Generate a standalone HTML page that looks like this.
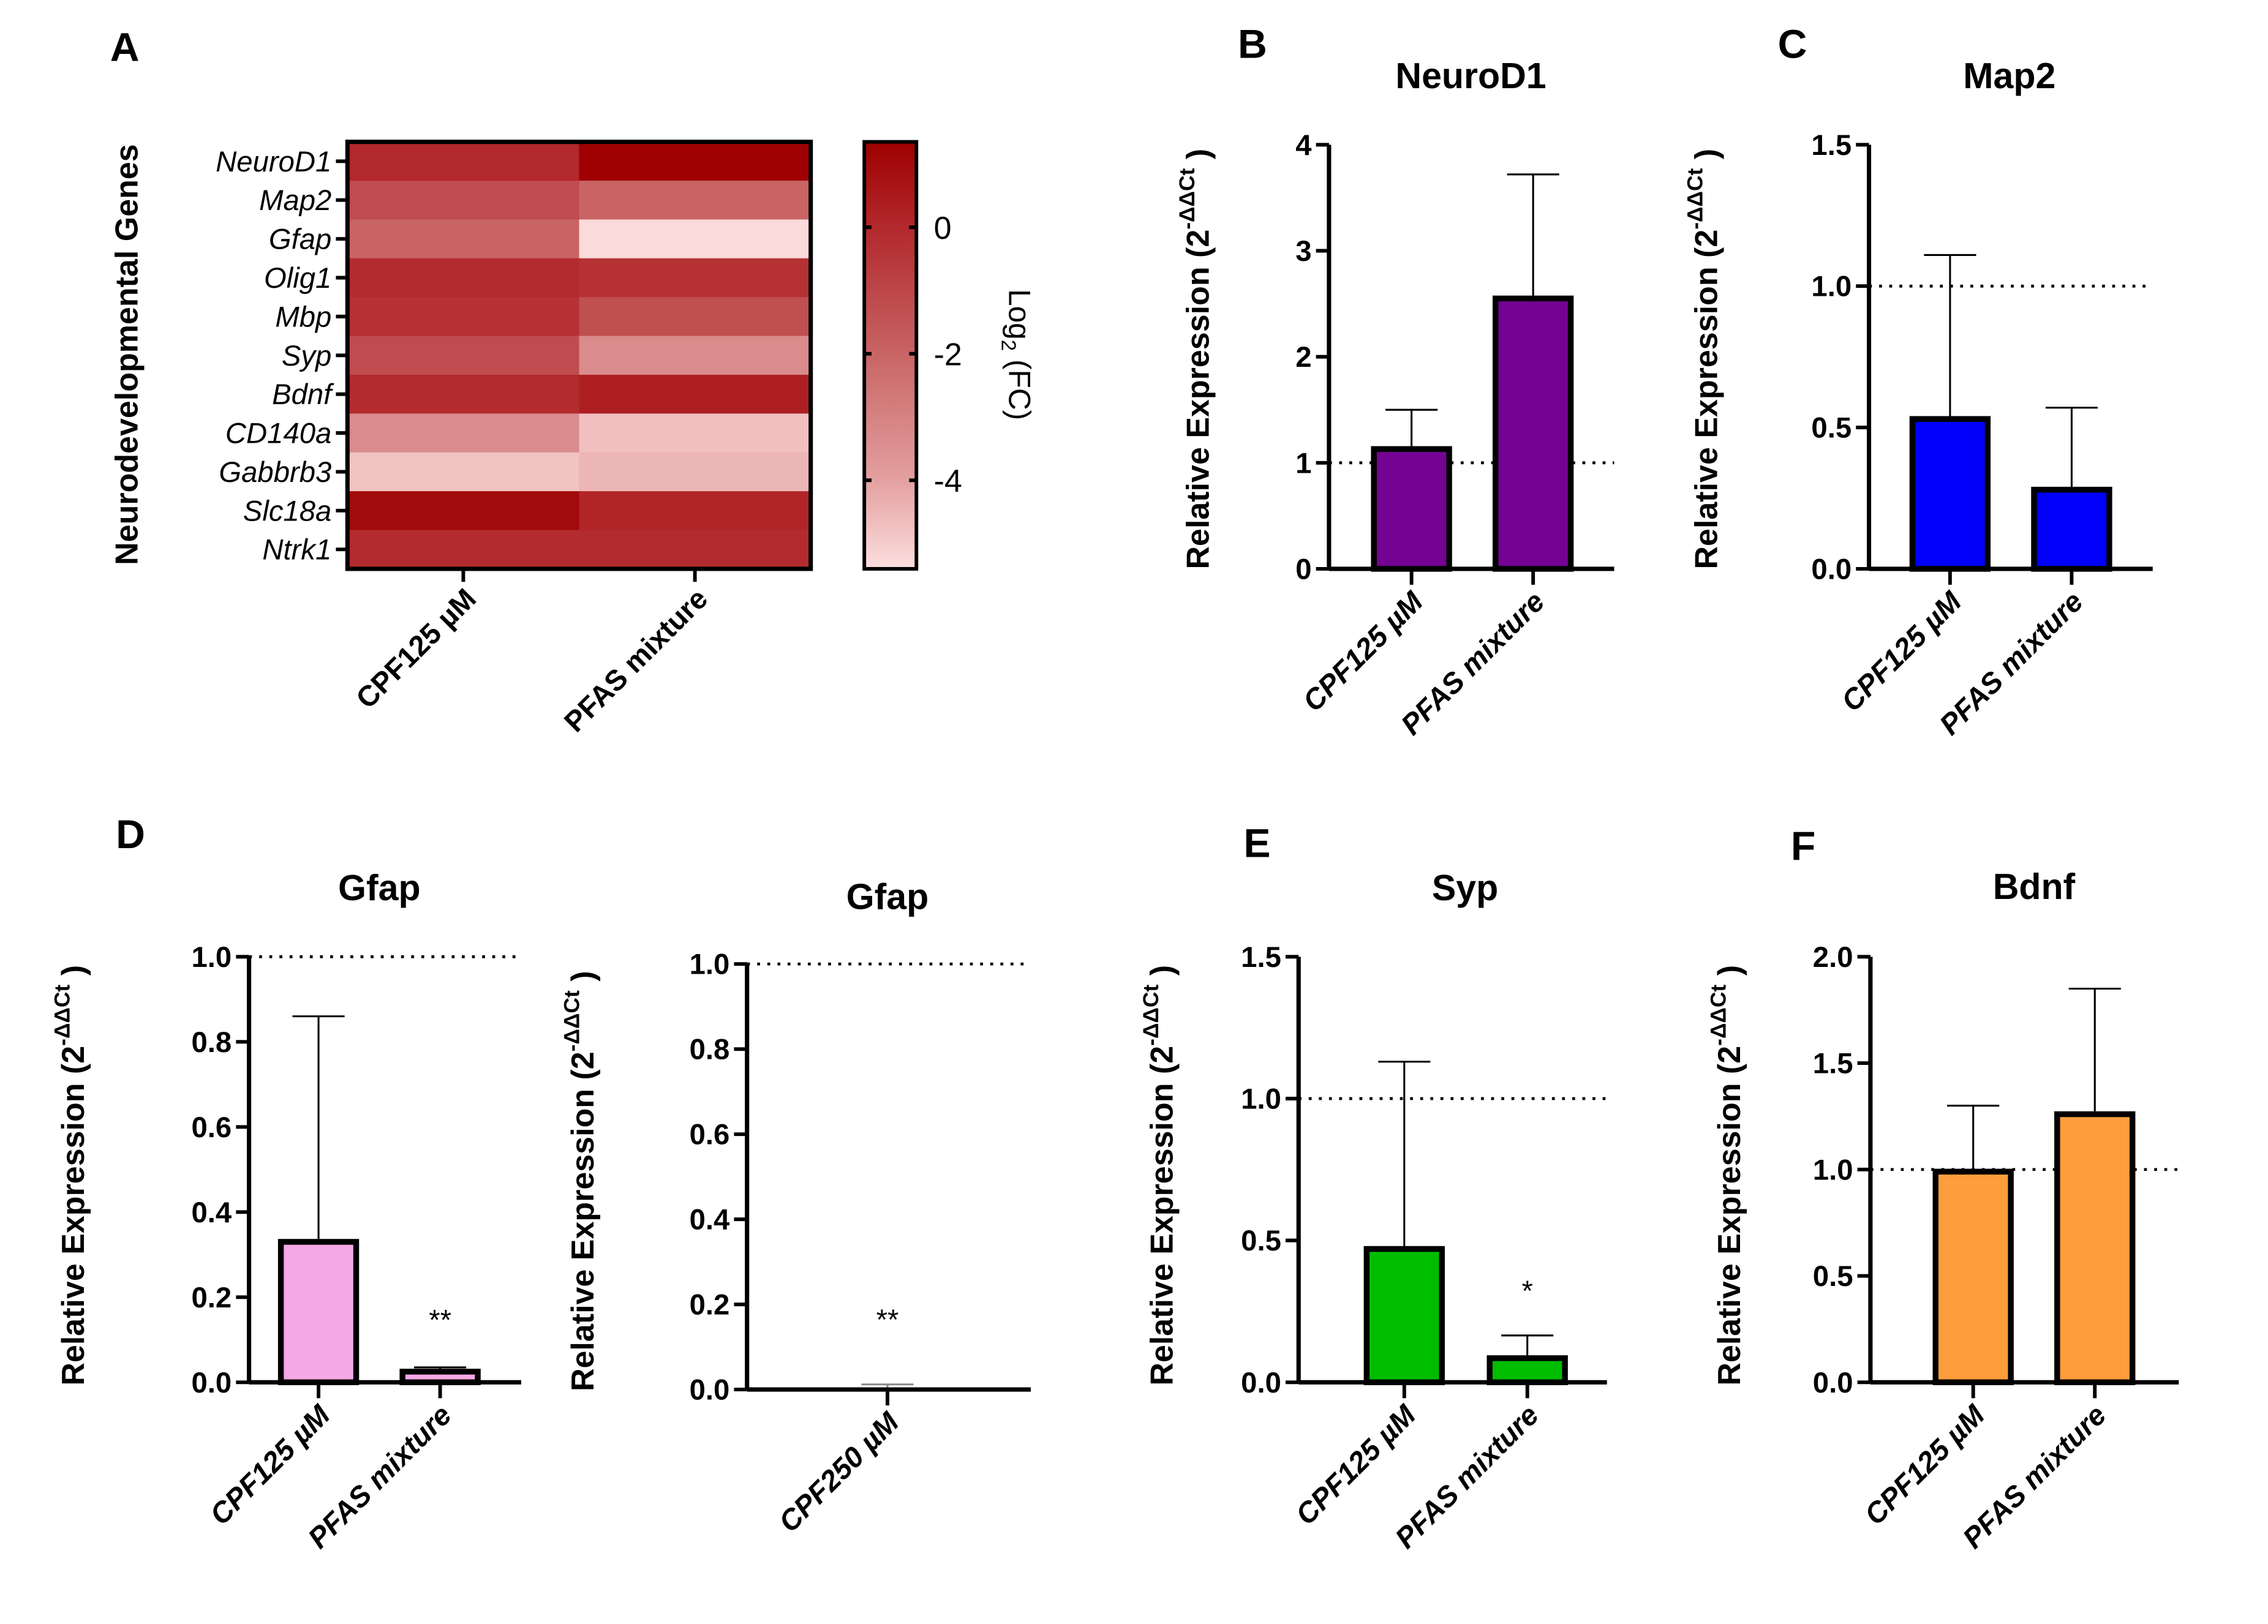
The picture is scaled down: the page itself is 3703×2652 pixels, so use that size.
<!DOCTYPE html>
<html><head><meta charset="utf-8"><style>
html,body{margin:0;padding:0;background:#fff}
svg{display:block}
text{font-family:"Liberation Sans",Arial,sans-serif}
</style></head><body>
<svg id="fig" xmlns="http://www.w3.org/2000/svg" width="3703" height="2652" viewBox="0 0 1566.6 1122">
<rect width="1600" height="1150" fill="#fff"/>
</svg>
<script>
const NS='http://www.w3.org/2000/svg';
const svg=document.getElementById('fig');
function mk(tag,attrs,parent,txt){const e=document.createElementNS(NS,tag);for(const k in attrs)e.setAttribute(k,attrs[k]);if(txt!==undefined)e.textContent=txt;(parent||svg).appendChild(e);return e;}

// ---------- Heatmap data ----------
const heatGenes=['NeuroD1','Map2','Gfap','Olig1','Mbp','Syp','Bdnf','CD140a','Gabbrb3','Slc18a','Ntrk1'];
const heatGroups=['CPF125 µM','PFAS mixture'];
const heatCPF=[0,-1.2,-2.0,-0.1,-0.3,-1.2,-0.1,-3.3,-4.8,1.0,-0.1];
const heatPFAS=[1.3,-2.0,-5.3,-0.3,-1.3,-3.3,0.3,-4.7,-4.5,0.1,-0.1];
const cbTicks=[0,-2,-4];

// ---------- Bar data ----------
const barCats=['CPF125 µM','PFAS mixture'];
const neurodVals=[1.13,2.55], neurodErr=[1.5,3.72];
const map2Vals=[0.53,0.28], map2Err=[1.11,0.57];
const gfapVals=[0.33,0.025], gfapErr=[0.86,0.035];
const gfap250Cats=['CPF250 µM'];
const gfap250Vals=[0.003], gfap250Err=[0.012];
const sypVals=[0.47,0.085], sypErr=[1.13,0.165];
const bdnfVals=[0.99,1.26], bdnfErr=[1.30,1.85];
const ticks4=['0','1','2','3','4'];
const ticks15=['0.0','0.5','1.0','1.5'];
const ticks10=['0.0','0.2','0.4','0.6','0.8','1.0'];
const ticks20=['0.0','0.5','1.0','1.5','2.0'];

// ---------- Heatmap ----------
(function(){
  const g=mk('g',{});
  const x0=240,x1=560,y0=98,y1=393;
  const vmax=1.35,vmin=-5.4;
  const stops=[[1.35,[158,0,0]],[0,[178,40,44]],[-2,[200,100,100]],[-4,[228,160,160]],[-5.4,[252,222,222]]];
  function col(v){v=Math.max(vmin,Math.min(vmax,v));for(let i=0;i<stops.length-1;i++){const a=stops[i],b=stops[i+1];if(v<=a[0]&&v>=b[0]){const t=(a[0]-v)/(a[0]-b[0]);const c=a[1].map((q,j)=>Math.round(q+(b[1][j]-q)*t));return 'rgb('+c.join(',')+')';}}return 'rgb(252,222,222)';}
  const rh=(y1-y0)/heatGenes.length, cw=(x1-x0)/heatGroups.length;
  const cols=[heatCPF,heatPFAS];
  cols.forEach((arr,ci)=>arr.forEach((v,ri)=>{
    const r=mk('rect',{x:x0+ci*cw,y:y0+ri*rh,width:cw+0.5,height:rh+0.5,fill:col(v)},g);
    
    
  }));
  mk('rect',{x:x0,y:y0,width:x1-x0,height:y1-y0,fill:'none',stroke:'#000','stroke-width':3,},g);
  heatGenes.forEach((n,i)=>{
    const y=y0+(i+0.5)*rh;
    mk('line',{x1:x0-8,x2:x0,y1:y,y2:y,stroke:'#000','stroke-width':2.5},g);
    const t=mk('text',{x:x0-11,y:y+7,'text-anchor':'end','font-size':20,'font-style':'italic'},g,n);
    
    
  });
  heatGroups.forEach((n,i)=>{
    const x=x0+(i+0.5)*cw;
    mk('line',{x1:x,x2:x,y1:y1,y2:y1+9,stroke:'#000','stroke-width':2.5},g);
    const t=mk('text',{x:0,y:0,'text-anchor':'end','font-size':20,'font-weight':'bold',transform:`translate(${x+10},${y1+22}) rotate(-45)`},g,n);
    
    
  });
  mk('text',{x:0,y:0,'text-anchor':'middle','font-size':22,'font-weight':'bold',transform:'translate(95,245) rotate(-90)',},g,'Neurodevelopmental Genes');
  const cx0=597,cx1=633;
  const defs=mk('defs',{},g);
  const lg=mk('linearGradient',{id:'cbg',x1:0,y1:0,x2:0,y2:1},defs);
  stops.forEach(s=>mk('stop',{offset:(vmax-s[0])/(vmax-vmin),'stop-color':'rgb('+s[1].join(',')+')'},lg));
  mk('rect',{x:cx0,y:y0,width:cx1-cx0,height:y1-y0,fill:'url(#cbg)',stroke:'#000','stroke-width':2.5,},g);
  cbTicks.forEach(v=>{
    const y=y0+(vmax-v)/(vmax-vmin)*(y1-y0);
    mk('line',{x1:cx0,x2:cx0+5,y1:y,y2:y,stroke:'#000','stroke-width':2.5},g);
    mk('line',{x1:cx1-5,x2:cx1,y1:y,y2:y,stroke:'#000','stroke-width':2.5},g);
    const t=mk('text',{x:cx1+12,y:y+8,'font-size':22},g,String(v));
    
    
  });
  const cl=mk('text',{x:0,y:0,'text-anchor':'middle','font-size':21,transform:'translate(697,245) rotate(90)',},g);
  cl.innerHTML='Log<tspan font-size="14" dy="5">2</tspan><tspan dy="-5"> (FC)</tspan>';
})();

// ---------- Bar chart function ----------
function barChart(o){
  const g=mk('g',{});
  const ys=v=>o.y0-(v-0)/(o.max)*(o.y0-o.yTop);
  mk('line',{x1:o.ax,x2:o.xEnd,y1:ys(1),y2:ys(1),stroke:'#000','stroke-width':2,'stroke-dasharray':'2,5',},g);
  o.vals.forEach((v,i)=>{
    const cx=o.centers[i], w=52;
    const top=ys(v);
    const eb=mk('line',{x1:cx,x2:cx,y1:ys(o.err[i]),y2:top,stroke:o.errColor||'#000','stroke-width':1.3},g);
    
    
    const cap=mk('line',{x1:cx-18,x2:cx+18,y1:ys(o.err[i]),y2:ys(o.err[i]),stroke:o.errColor||'#000','stroke-width':1.3},g);
    
    
    const h=Math.max(o.y0-top,0.5);
    const r=mk('rect',{x:cx-w/2,y:o.y0-h,width:w,height:h,fill:o.color,stroke:'#000','stroke-width':h>4?4:1},g);
    
    
    mk('line',{x1:cx,x2:cx,y1:o.y0,y2:o.y0+11,stroke:'#000','stroke-width':2.5},g);
    const t=mk('text',{x:0,y:0,'text-anchor':'end','font-size':20,'font-weight':'bold','font-style':'italic',transform:`translate(${cx+9},${o.y0+24}) rotate(-45)`},g,o.cats[i]);
    
    
    if(o.sig&&o.sig[i]){
      const s=mk('text',{x:cx,y:ys(o.err[i])-o.sigGap,'text-anchor':'middle','font-size':20},g,o.sig[i]);
      
      
    }
  });
  mk('line',{x1:o.ax,x2:o.ax,y1:o.yTop,y2:o.y0,stroke:'#000','stroke-width':3,},g);
  mk('line',{x1:o.ax,x2:o.xEnd,y1:o.y0,y2:o.y0,stroke:'#000','stroke-width':3,},g);
  o.ticks.forEach((lbl,i)=>{
    const y=ys(parseFloat(lbl));
    mk('line',{x1:o.ax-9,x2:o.ax,y1:y,y2:y,stroke:'#000','stroke-width':2.5},g);
    const t=mk('text',{x:o.ax-12,y:y+7,'text-anchor':'end','font-size':20,'font-weight':'bold'},g,lbl);
    
    
  });
  mk('text',{x:o.titleX,y:o.titleY,'text-anchor':'middle','font-size':25,'font-weight':'bold',},g,o.title);
  const yl=mk('text',{x:0,y:0,'text-anchor':'middle','font-size':22,'font-weight':'bold',transform:`translate(${o.ylX},${o.ylY}) rotate(-90)`,},g);
  yl.innerHTML='Relative Expression (2<tspan font-size="15" dy="-10">-ΔΔCt</tspan><tspan dy="10"> )</tspan>';
  if(o.letter) mk('text',{x:o.letter[0],y:o.letter[1],'font-size':28,'font-weight':'bold',},g,o.letter[2]);
}

mk('text',{x:76,y:42,'font-size':28,'font-weight':'bold',},svg,'A');

barChart({name:'chart-neurod1',cats:barCats,vals:neurodVals,err:neurodErr,color:'#740393',ax:918,xEnd:1115,y0:393,yTop:100,max:4,ticks:ticks4,centers:[975,1059],title:'NeuroD1',titleX:1016,titleY:61,ylX:835,ylY:248,letter:[855,40,'B']});
barChart({name:'chart-map2',cats:barCats,vals:map2Vals,err:map2Err,color:'#0000fb',ax:1291,xEnd:1487,y0:393,yTop:100,max:1.5,ticks:ticks15,centers:[1347,1431],title:'Map2',titleX:1388,titleY:61,ylX:1186,ylY:248,letter:[1228,40,'C']});
barChart({name:'chart-gfap',cats:barCats,vals:gfapVals,err:gfapErr,color:'#f5a8e6',ax:172,xEnd:360,y0:955,yTop:661,max:1.0,ticks:ticks10,centers:[220,304],title:'Gfap',titleX:262,titleY:622,ylX:58,ylY:812,letter:[80,586,'D'],sig:['','**'],sigGap:26});
barChart({name:'chart-gfap-cpf250',cats:gfap250Cats,vals:gfap250Vals,err:gfap250Err,errColor:'#888',color:'#ddd',ax:516,xEnd:712,y0:960,yTop:666,max:1.0,ticks:ticks10,centers:[613],title:'Gfap',titleX:613,titleY:628,ylX:410,ylY:816,sig:['**'],sigGap:38});
barChart({name:'chart-syp',cats:barCats,vals:sypVals,err:sypErr,color:'#00bd00',ax:897,xEnd:1110,y0:955,yTop:661,max:1.5,ticks:ticks15,centers:[970,1055],title:'Syp',titleX:1012,titleY:622,ylX:810,ylY:812,letter:[859,592,'E'],sig:['','*'],sigGap:24});
barChart({name:'chart-bdnf',cats:barCats,vals:bdnfVals,err:bdnfErr,color:'#fd9d3c',ax:1292,xEnd:1505,y0:955,yTop:661,max:2.0,ticks:ticks20,centers:[1363,1447],title:'Bdnf',titleX:1405,titleY:621,ylX:1202,ylY:812,letter:[1237,594,'F']});
</script>
</body></html>
